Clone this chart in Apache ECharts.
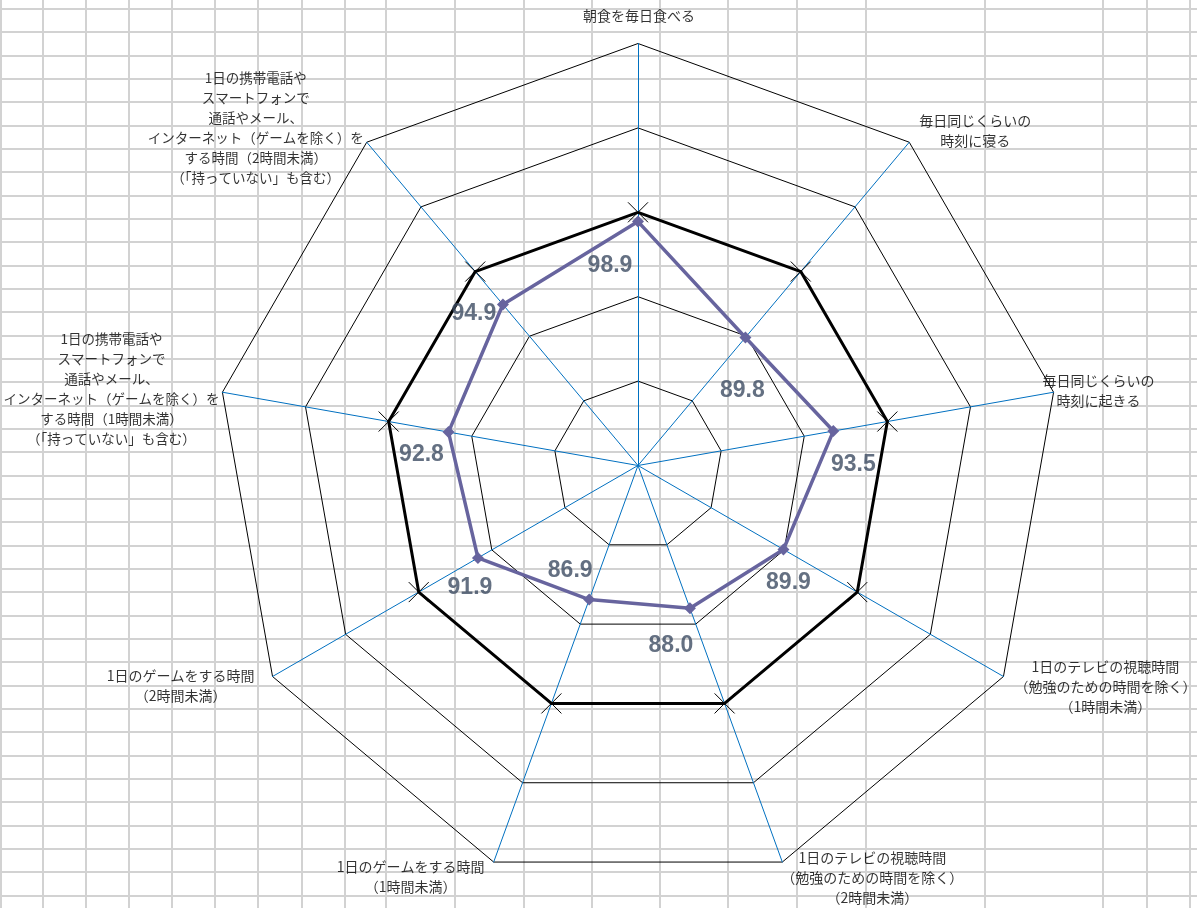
<!DOCTYPE html>
<html>
<head>
<meta charset="utf-8">
<script src="https://cdn.jsdelivr.net/npm/echarts@6/dist/echarts.min.js"></script>
<style>
  html, body { margin: 0; padding: 0; background: #fff; }
  #wrap { position: relative; width: 1197px; height: 908px; overflow: hidden; background: #fff; }
  #grid { position: absolute; left: 0; top: 0; width: 1197px; height: 908px; }
  #grid div { position: absolute; background: #D2D2D2; }
  #chart { position: absolute; left: 0; top: 0; width: 1197px; height: 908px; }
</style>
</head>
<body>
<div id="wrap">
  <div id="grid"></div>
  <div id="chart"></div>
</div>
<script>
// ---- data ----
const categories = [
  '朝食を毎日食べる',
  '毎日同じくらいの\n時刻に寝る',
  '毎日同じくらいの\n時刻に起きる',
  '1日のテレビの視聴時間\n（勉強のための時間を除く）\n（1時間未満）',
  '1日のテレビの視聴時間\n（勉強のための時間を除く）\n（2時間未満）',
  '1日のゲームをする時間\n（1時間未満）',
  '1日のゲームをする時間\n（2時間未満）',
  '1日の携帯電話や\nスマートフォンで\n通話やメール、\nインターネット（ゲームを除く）を\nする時間（1時間未満）\n（「持っていない」も含む）',
  '1日の携帯電話や\nスマートフォンで\n通話やメール、\nインターネット（ゲームを除く）を\nする時間（2時間未満）\n（「持っていない」も含む）'
];
const schoolValues = [98.9, 89.8, 93.5, 89.9, 88.0, 86.9, 91.9, 92.8, 94.9];
const baseValues   = [100, 100, 100, 100, 100, 100, 100, 100, 100];
const axisMin = 70;
const axisMax = 120;
const axisInterval = 10;

// ---- layout (not data) ----
const valueLabelOffsets = [[-28,44],[-3,53],[20,34],[5,33],[-19,37],[-19,-29],[-8,30],[-27,23],[-29,9]];
const nameOffsets = [[1,-28],[66,-12],[45,-2],[102,10],[90,16],[-83,15],[-92,9],[-111,-3],[-111,-14]];
const nameFontSizes = [14, 14, 14, 14, 14, 14, 14, 13.5, 13.5];
const gridCols = [0, 42, 85, 128, 171, 214, 257, 301, 344, 385, 454, 523, 591, 659, 727, 796, 865, 984, 1102, 1146, 1189];

// background spreadsheet grid
(function () {
  const g = document.getElementById('grid');
  gridCols.forEach(function (x) {
    const d = document.createElement('div');
    d.style.left = x + 'px'; d.style.top = '0px'; d.style.width = '2px'; d.style.height = '908px';
    g.appendChild(d);
  });
  for (let k = 0; k < 40; k++) {
    const y = Math.round(8 + 23.333 * k);
    if (y > 908) break;
    const d = document.createElement('div');
    d.style.left = '0px'; d.style.top = y + 'px'; d.style.width = '1197px'; d.style.height = '2px';
    g.appendChild(d);
  }
})();

// radar draws counter-clockwise; reorder so the categories run clockwise
const order = [0];
for (let i = categories.length - 1; i >= 1; i--) order.push(i);

const center = [638, 465.5];
const radius = 422;
const crossPath = 'path://M0,0L10,10M10,0L0,10';
const purple = '#67649E';

const chart = echarts.init(document.getElementById('chart'), null, { renderer: 'canvas' });
chart.setOption({
  animation: false,
  backgroundColor: 'transparent',
  radar: {
    center: center,
    radius: radius,
    startAngle: 90,
    splitNumber: (axisMax - axisMin) / axisInterval,
    shape: 'polygon',
    indicator: order.map(function (i) { return { name: categories[i], min: axisMin, max: axisMax }; }),
    axisName: { show: false },
    axisLine: { lineStyle: { color: '#0070C0', width: 1 } },
    splitLine: { lineStyle: { color: '#000000', width: 1 } },
    splitArea: { show: false },
    axisTick: { show: false },
    axisLabel: { show: false }
  },
  polar: { center: center, radius: radius },
  angleAxis: {
    type: 'category', data: categories, boundaryGap: false, startAngle: 90, clockwise: true,
    show: false, axisLine: { show: false }, splitLine: { show: false }, axisLabel: { show: false }, axisTick: { show: false }
  },
  radiusAxis: {
    type: 'value', min: axisMin, max: axisMax, interval: axisInterval,
    show: false, axisLine: { show: false }, splitLine: { show: false }, axisLabel: { show: false }, axisTick: { show: false }
  },
  series: [
    {
      type: 'radar',
      silent: true,
      z: 3,
      data: [
        {
          name: 'base',
          value: order.map(function (i) { return baseValues[i]; }),
          symbol: crossPath,
          symbolSize: 20,
          lineStyle: { color: '#000000', width: 3 },
          itemStyle: { color: 'transparent', borderColor: '#000000', borderWidth: 1 },
          label: { show: false }
        },
        {
          name: 'school',
          value: order.map(function (i) { return schoolValues[i]; }),
          symbol: 'diamond',
          symbolSize: 12,
          lineStyle: { color: purple, width: 3.5 },
          itemStyle: { color: purple },
          label: { show: false }
        }
      ]
    },
    {
      type: 'scatter',
      coordinateSystem: 'polar',
      silent: true,
      symbolSize: 0,
      z: 5,
      itemStyle: { color: 'transparent' },
      data: schoolValues.map(function (v, i) {
        return {
          value: [v, i],
          label: {
            show: true, position: 'inside', offset: valueLabelOffsets[i],
            formatter: function () { return v.toFixed(1); },
            color: '#3D4C63', fontSize: 23, fontWeight: 'bold',
            fontFamily: '"Liberation Sans", Arial, sans-serif'
          }
        };
      })
    },
    {
      type: 'scatter',
      coordinateSystem: 'polar',
      silent: true,
      symbolSize: 0,
      z: 5,
      itemStyle: { color: 'transparent' },
      data: categories.map(function (name, i) {
        return {
          value: [axisMax, i],
          label: {
            show: true, position: 'inside', offset: nameOffsets[i],
            formatter: function () { return name; },
            color: '#000000', fontSize: nameFontSizes[i], lineHeight: 20, align: 'center', verticalAlign: 'middle',
            fontFamily: '"Noto Sans CJK JP", sans-serif'
          }
        };
      })
    }
  ]
});
</script>
</body>
</html>
